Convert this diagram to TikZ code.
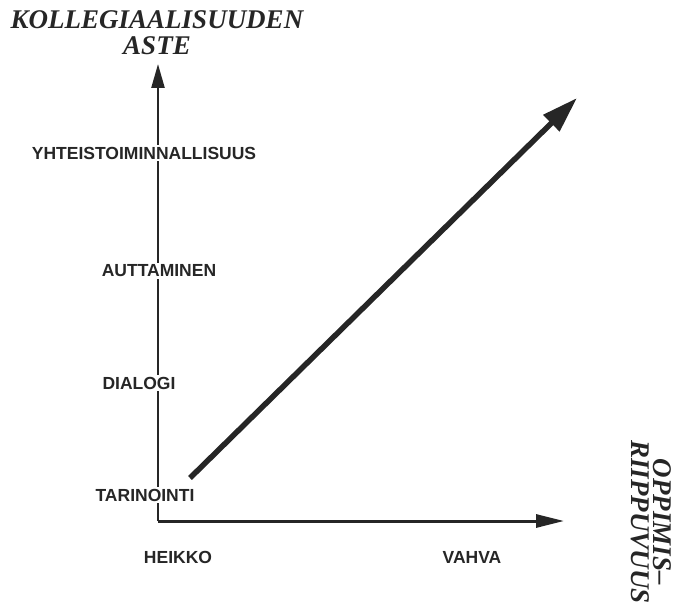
\documentclass[tikz,border=0pt]{standalone}
\usepackage{fontspec}
\setmainfont{Liberation Serif}
\newfontfamily\labelfont{Liberation Sans}
\usetikzlibrary{arrows.meta}
\begin{document}
\begin{tikzpicture}[x=1pt,y=-1pt,
  axis/.style={draw=black!85, line width=2.4pt},
  lvl/.style={font=\labelfont\bfseries\fontsize{17.5}{20}\selectfont, fill=white, inner sep=2pt, text=black!85},
  ttl/.style={font=\bfseries\itshape\fontsize{27}{26}\selectfont, text=black!85, align=center, inner sep=0pt}]
\useasboundingbox (0,0) rectangle (678,607);

% axis end points
\coordinate (O) at (158,521);
\coordinate (ytip) at (158,64);
\coordinate (xtip) at (564,521);
\coordinate (dstart) at (190,478);
\coordinate (dtip) at (577,98);

% vertical axis, drawn first so the level labels cover it
\draw[axis, -{Triangle[length=24pt,width=13pt]}] (O) -- (ytip);
% horizontal axis
\draw[axis, line width=3pt, -{Triangle[length=28pt,width=13pt]}] (O) -- (xtip);
% diagonal development arrow
\draw[draw=black!85, line width=5.5pt, -{Triangle[length=36pt,width=22pt]}] (dstart) -- (dtip);

% levels of collegiality
\node[lvl] (l4) at (144,153) {YHTEISTOIMINNALLISUUS};
\node[lvl] (l3) at (159,271) {AUTTAMINEN};
\node[lvl] (l2) at (139,383) {DIALOGI};
\node[lvl] (l1) at (145,495) {TARINOINTI};

% ends of the horizontal axis
\node[lvl, fill=none] (weak) at (178,557) {HEIKKO};
\node[lvl, fill=none] (strong) at (472,557) {VAHVA};

% axis titles
\node[ttl] (ytitle) at (157,33) {KOLLEGIAALISUUDEN\\ASTE};
\node[ttl, rotate=-90] (xtitle) at (651,522) {OPPIMIS--\\[-4pt]RIIPPUVUUS};
\end{tikzpicture}
\end{document}
